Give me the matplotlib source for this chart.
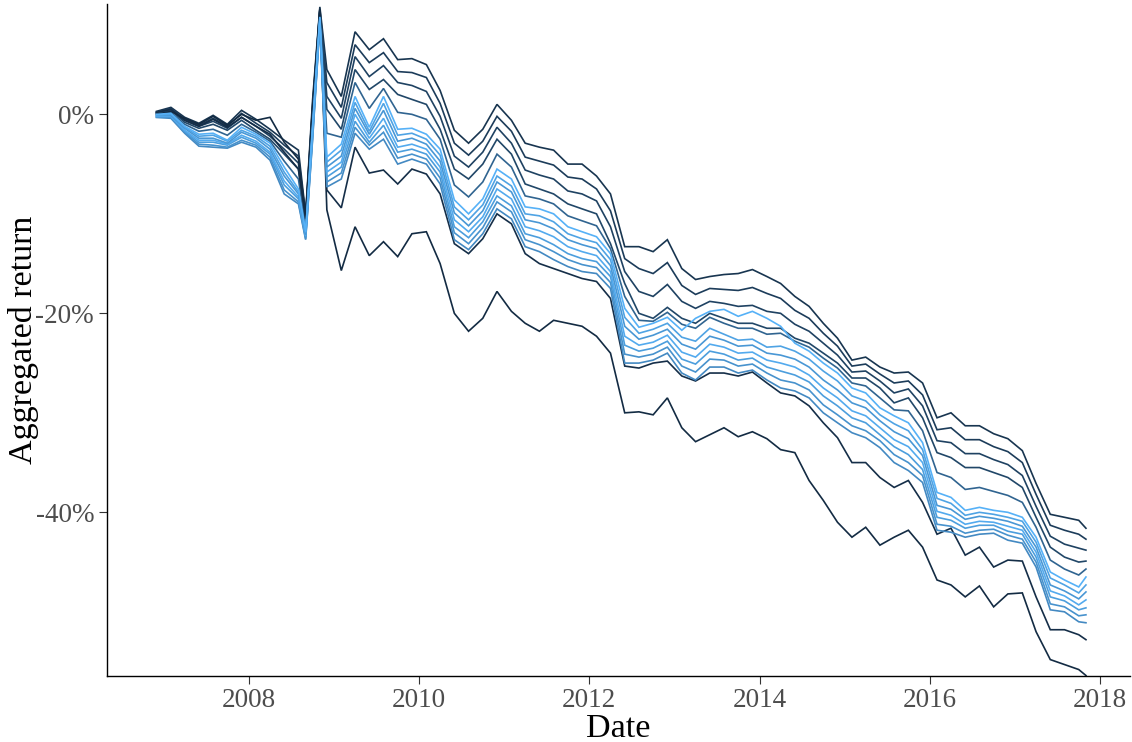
import matplotlib
matplotlib.use("Agg")
import matplotlib.pyplot as plt
from matplotlib.colors import LinearSegmentedColormap
import pandas as pd

months = ["2006-11", "2007-01", "2007-03", "2007-05", "2007-07", "2007-09", "2007-11",
          "2008-01", "2008-03", "2008-05", "2008-07", "2008-08", "2008-09", "2008-10",
          "2008-11", "2009-01", "2009-03", "2009-05", "2009-07", "2009-09", "2009-11",
          "2010-01", "2010-03", "2010-05", "2010-07", "2010-09", "2010-11",
          "2011-01", "2011-03", "2011-05", "2011-07", "2011-09", "2011-11",
          "2012-01", "2012-03", "2012-05", "2012-07", "2012-09", "2012-11",
          "2013-01", "2013-03", "2013-05", "2013-07", "2013-09", "2013-11",
          "2014-01", "2014-03", "2014-05", "2014-07", "2014-09", "2014-11",
          "2015-01", "2015-03", "2015-05", "2015-07", "2015-09", "2015-11",
          "2016-01", "2016-03", "2016-05", "2016-07", "2016-09", "2016-11",
          "2017-01", "2017-03", "2017-05", "2017-07", "2017-09", "2017-10"]

# aggregated return (%) per portfolio
top1 = [0.3, 0.7, -0.3, -0.9, -0.1, -1.0, 0.4, -0.5, -1.5, -2.6, -3.6,
        -10.0, 1.5, 10.8,
        4.5, 1.8, 8.3, 6.5, 7.6, 5.5, 5.6, 5.0, 2.4, -1.6,
        -2.9, -1.5, 1.0, -0.6, -2.9, -3.3, -3.6, -5.0, -5.0, -6.2,
        -8.0, -13.3, -13.3, -13.8, -12.6, -15.5, -16.6, -16.3, -16.1, -16.0,
        -15.6, -16.3, -17.0, -18.3, -19.3, -21.0, -22.5, -24.7, -24.4, -25.4,
        -26.0, -25.9, -27.0, -30.5, -30.0, -31.3, -31.3, -32.1, -32.6, -33.8,
        -37.1, -40.2, -40.5, -40.8, -41.6]
top2 = [0.2, 0.6, -0.5, -1.1, -0.4, -1.2, 0.1, -0.9, -1.8, -3.1, -4.2,
        -10.3, 1.0, 10.6,
        3.2, 0.7, 7.0, 5.2, 6.2, 4.3, 4.2, 3.7, 1.1, -2.9,
        -4.1, -2.7, -0.2, -1.7, -4.3, -4.7, -5.1, -6.3, -6.5, -7.5,
        -9.7, -14.5, -15.5, -16.0, -14.9, -17.2, -18.1, -17.5, -17.6, -17.7,
        -17.4, -18.0, -18.5, -19.7, -20.5, -22.0, -23.3, -25.3, -25.1, -26.1,
        -27.0, -26.8, -28.2, -31.7, -31.5, -32.7, -32.7, -33.4, -33.9, -35.0,
        -38.2, -41.3, -41.8, -42.2, -42.7]
top3 = [0.2, 0.5, -0.6, -1.2, -0.7, -1.4, -0.3, -1.2, -2.2, -3.5, -4.9,
        -10.7, 0.5, 10.5,
        1.8, -0.4, 5.8, 3.8, 4.9, 3.2, 2.9, 2.3, -0.2, -4.2,
        -5.3, -3.8, -1.3, -2.9, -5.6, -6.1, -6.5, -7.7, -8.0, -8.7,
        -11.3, -15.8, -17.8, -18.3, -17.1, -18.8, -19.5, -18.8, -19.0, -19.3,
        -19.2, -19.8, -20.0, -21.1, -21.8, -23.0, -24.2, -25.9, -25.8, -26.8,
        -28.0, -27.6, -29.3, -32.8, -33.0, -34.1, -34.1, -34.7, -35.2, -36.3,
        -39.4, -42.4, -43.2, -43.6, -43.8]
top4 = [0.1, 0.4, -0.8, -1.4, -1.0, -1.6, -0.6, -1.6, -2.5, -4.0, -5.5,
        -11.0, 0.0, 10.3,
        0.5, -1.5, 4.5, 2.5, 3.5, 2.0, 1.5, 1.0, -1.5, -5.5,
        -6.5, -5.0, -2.5, -4.0, -7.0, -7.5, -8.0, -9.0, -9.5, -10.0,
        -13.0, -17.0, -20.0, -20.5, -19.4, -20.5, -21.0, -20.0, -20.5, -21.0,
        -21.0, -21.5, -21.5, -22.5, -23.0, -24.0, -25.0, -26.5, -26.5, -27.5,
        -29.0, -28.5, -30.5, -34.0, -34.5, -35.5, -35.5, -36.0, -36.5, -37.5,
        -40.5, -43.5, -44.5, -45.0, -44.9]
mid1 = [0.1, 0.2, -1.0, -1.7, -1.5, -2.1, -1.0, -1.8, -2.7, -4.7, -6.5,
        -11.4, -0.5, 10.0,
        -1.9, -2.3, 3.2, 0.6, 2.6, 0.2, 0.0, -0.5, -2.5, -7.1,
        -8.3, -6.8, -4.0, -5.3, -8.2, -8.5, -9.0, -10.2, -10.7, -11.2,
        -13.5, -18.3, -20.7, -20.8, -19.9, -21.1, -21.5, -20.4, -21.0, -21.5,
        -21.5, -22.1, -22.0, -22.8, -23.4, -24.5, -25.5, -27.0, -27.3, -28.5,
        -29.7, -29.8, -31.8, -36.0, -36.5, -37.7, -37.5, -37.9, -38.3, -39.0,
        -41.5, -44.8, -45.7, -46.3, -45.7]
light1 = [0.0, 0.1, -1.2, -2.0, -1.9, -2.6, -1.3, -2.0, -2.9, -5.3, -7.5,
          -11.8, -1.0, 9.8,
          -4.3, -3.0, 1.8, -1.3, 1.8, -1.5, -1.4, -2.0, -3.5, -8.6,
          -10.0, -8.5, -5.5, -6.5, -9.3, -9.5, -10.0, -11.3, -11.8, -12.3,
          -14.0, -19.5, -21.4, -21.0, -20.4, -21.7, -20.5, -19.8, -19.6, -20.3,
          -19.8, -20.5, -21.3, -23.0, -23.8, -25.0, -26.0, -27.5, -28.0, -29.5,
          -30.3, -31.0, -33.0, -38.0, -38.5, -39.8, -39.5, -39.8, -40.0, -40.5,
          -42.5, -46.0, -46.8, -47.5, -46.5]
light2 = [-0.1, 0.0, -1.3, -2.2, -2.1, -2.7, -1.6, -2.2, -3.2, -5.8, -7.8,
          -11.9, -1.3, 9.7,
          -4.8, -3.6, 1.2, -1.7, 1.1, -2.1, -1.9, -2.5, -4.1, -9.3,
          -10.6, -9.1, -6.2, -7.2, -10.0, -10.2, -10.8, -12.0, -12.5, -12.9,
          -14.6, -20.4, -22.0, -21.6, -21.0, -22.4, -22.8, -21.5, -22.1, -22.7,
          -22.6, -23.4, -23.3, -23.8, -24.6, -25.8, -26.8, -28.3, -28.8, -30.2,
          -31.1, -31.8, -33.7, -38.6, -39.1, -40.3, -40.0, -40.2, -40.5, -40.9,
          -43.0, -46.6, -47.3, -48.1, -47.3]
light3 = [-0.1, -0.1, -1.4, -2.4, -2.4, -2.9, -1.8, -2.4, -3.5, -6.2, -8.0,
          -12.1, -1.5, 9.5,
          -5.3, -4.2, 0.6, -2.0, 0.4, -2.7, -2.4, -3.0, -4.7, -9.9,
          -11.2, -9.7, -6.8, -7.8, -10.6, -10.9, -11.5, -12.6, -13.1, -13.5,
          -15.2, -21.3, -22.6, -22.2, -21.6, -23.1, -23.6, -22.3, -22.7, -23.3,
          -23.2, -24.0, -24.2, -24.6, -25.4, -26.7, -27.7, -29.0, -29.5, -30.8,
          -31.9, -32.6, -34.3, -39.3, -39.7, -40.7, -40.4, -40.6, -40.9, -41.4,
          -43.5, -47.3, -47.9, -48.7, -48.0]
light4 = [-0.2, -0.2, -1.6, -2.6, -2.6, -3.0, -2.1, -2.7, -3.8, -6.7, -8.3,
          -12.2, -1.8, 9.4,
          -5.8, -4.8, 0.0, -2.4, -0.4, -3.3, -3.0, -3.5, -5.3, -10.6,
          -11.8, -10.3, -7.5, -8.5, -11.3, -11.7, -12.3, -13.3, -13.8, -14.2,
          -15.8, -22.3, -23.2, -22.9, -22.2, -23.9, -24.4, -23.1, -23.4, -24.0,
          -23.9, -24.7, -25.0, -25.4, -26.2, -27.5, -28.5, -29.8, -30.3, -31.5,
          -32.7, -33.4, -35.0, -39.9, -40.3, -41.2, -40.9, -41.0, -41.4, -41.8,
          -44.0, -47.9, -48.4, -49.3, -48.8]
light5 = [-0.2, -0.2, -1.7, -2.8, -2.8, -3.1, -2.3, -2.9, -4.0, -7.1, -8.5,
          -12.3, -2.0, 9.3,
          -6.3, -5.3, -0.7, -2.8, -1.1, -3.8, -3.5, -4.0, -5.8, -11.3,
          -12.4, -10.8, -8.2, -9.2, -12.0, -12.4, -13.1, -14.0, -14.5, -14.8,
          -16.3, -23.2, -23.8, -23.5, -22.8, -24.6, -25.1, -23.8, -24.1, -24.7,
          -24.5, -25.4, -25.8, -26.2, -26.9, -28.3, -29.3, -30.5, -31.0, -32.2,
          -33.4, -34.2, -35.7, -40.5, -40.8, -41.6, -41.3, -41.3, -41.9, -42.2,
          -44.5, -48.5, -48.9, -49.8, -49.6]
light6 = [-0.3, -0.3, -1.8, -3.0, -3.1, -3.3, -2.6, -3.1, -4.3, -7.6, -8.8,
          -12.5, -2.3, 9.1,
          -6.8, -5.9, -1.3, -3.1, -1.8, -4.4, -4.0, -4.5, -6.4, -11.9,
          -13.0, -11.4, -8.8, -9.8, -12.6, -13.1, -13.8, -14.6, -15.1, -15.4,
          -16.9, -24.1, -24.4, -24.1, -23.4, -25.3, -25.9, -24.6, -24.7, -25.3,
          -25.1, -26.0, -26.7, -27.0, -27.7, -29.2, -30.2, -31.3, -31.8, -32.8,
          -34.2, -35.0, -36.3, -41.2, -41.4, -42.1, -41.8, -41.7, -42.3, -42.7,
          -45.0, -49.2, -49.5, -50.4, -50.3]
light7 = [-0.3, -0.4, -1.9, -3.2, -3.3, -3.4, -2.8, -3.3, -4.6, -8.0, -9.0,
          -12.6, -2.5, 9.0,
          -7.3, -6.5, -1.9, -3.5, -2.5, -5.0, -4.5, -5.0, -7.0, -12.6,
          -13.6, -12.0, -9.5, -10.5, -13.3, -13.8, -14.6, -15.3, -15.8, -16.0,
          -17.5, -25.0, -25.0, -24.7, -24.0, -26.0, -26.7, -25.4, -25.4, -26.0,
          -25.7, -26.7, -27.5, -27.8, -28.5, -30.0, -31.0, -32.0, -32.5, -33.5,
          -35.0, -35.8, -37.0, -41.8, -42.0, -42.5, -42.2, -42.1, -42.8, -43.1,
          -45.5, -49.8, -50.0, -51.0, -51.1]
low1 = [0.2, 0.5, -0.6, -1.2, -0.5, -1.3, -0.3, -1.2, -2.0, -3.8, -5.5,
        -10.5, 0.5, 10.5,
        -7.6, -9.4, -3.3, -5.9, -5.6, -7.0, -5.5, -6.0, -8.0, -13.0,
        -14.0, -12.5, -10.0, -11.0, -14.0, -15.0, -15.5, -16.0, -16.5, -16.8,
        -18.5, -25.3, -25.5, -25.0, -24.8, -26.3, -26.8, -26.0, -26.0, -26.3,
        -25.9, -27.0, -28.0, -28.3, -29.3, -31.0, -32.5, -35.0, -35.0, -36.5,
        -37.5, -36.8, -39.0, -42.2, -41.6, -44.3, -43.5, -45.5, -44.8, -44.9,
        -48.5, -51.8, -51.8, -52.3, -52.8]
low2 = [0.0, 0.3, -0.4, -1.0, -0.2, -1.1, 0.0, -0.6, -0.3, -2.8, -4.5,
        -10.2, 0.8, 10.6,
        -9.6, -15.7, -11.3, -14.2, -12.8, -14.3, -12.0, -11.8, -15.0, -20.0,
        -21.8, -20.5, -17.8, -19.8, -21.0, -21.8, -20.7, -21.0, -21.3, -22.3,
        -24.0, -30.0, -29.9, -30.2, -28.5, -31.5, -32.9, -32.2, -31.5, -32.4,
        -31.9, -32.6, -33.7, -34.0, -36.8, -38.8, -41.0, -42.5, -41.5, -43.3,
        -42.5, -41.8, -43.5, -46.8, -47.3, -48.5, -47.4, -49.5, -48.2, -48.1,
        -52.0, -54.8, -55.3, -55.8, -56.4]

# colour variable of each portfolio (0 = dark end, 1 = light end of the scale)
series = [top1, top2, top3, top4, mid1, low1, low2,
          light7, light6, light5, light4, light3, light2, light1]
levels = [0.08, 0.14, 0.18, 0.22, 0.45, 0.03, 0.0,
          0.72, 0.78, 0.86, 0.95, 0.82, 0.9, 1.0]

y_ticks = [0, -20, -40]
y_tick_labels = ["0%", "-20%", "-40%"]
x_years = [2008, 2010, 2012, 2014, 2016, 2018]

dates = pd.PeriodIndex(months, freq="M").to_timestamp(how="end")
for s in series:
    assert len(s) == len(dates)

cmap = LinearSegmentedColormap.from_list("gg", ["#132B43", "#336A98", "#56B1F7"])

plt.rcParams["font.family"] = ["Liberation Serif", "DejaVu Serif"]

fig = plt.figure(figsize=(11.32, 7.42), dpi=100)
ax = fig.add_axes([107.3 / 1132, 1 - 675.7 / 742, 1022.7 / 1132, 671.7 / 742])

for vals, lev in zip(series, levels):
    ax.plot(dates, vals, color=cmap(lev), lw=1.2, solid_joinstyle="miter")

ax.set_xlim(pd.Timestamp("2006-05-04"), pd.Timestamp("2018-05-09"))
ax.set_ylim(-56.42, 11.09)

ax.set_xticks([pd.Timestamp(f"{y}-01-01") for y in x_years])
ax.set_xticklabels([str(y) for y in x_years])
ax.set_yticks(y_ticks)
ax.set_yticklabels(y_tick_labels)

ax.tick_params(axis="both", length=6, width=0.8, color="#333333",
               labelcolor="#4D4D4D", labelsize=19.5)
ax.tick_params(axis="x", pad=3)
ax.tick_params(axis="y", pad=3.5)

for side in ["top", "right"]:
    ax.spines[side].set_visible(False)
for side in ["left", "bottom"]:
    ax.spines[side].set_linewidth(1.0)
    ax.spines[side].set_color("black")

fig.text(618.6 / 1132, 1 - 737 / 742, "Date", ha="center", va="baseline",
         fontsize=24.5, color="black")
fig.text(24 / 1132, 1 - 340 / 742, "Aggregated return", rotation=90,
         ha="center", va="center", fontsize=24.5, color="black")

fig.savefig("out.png", dpi=100)
